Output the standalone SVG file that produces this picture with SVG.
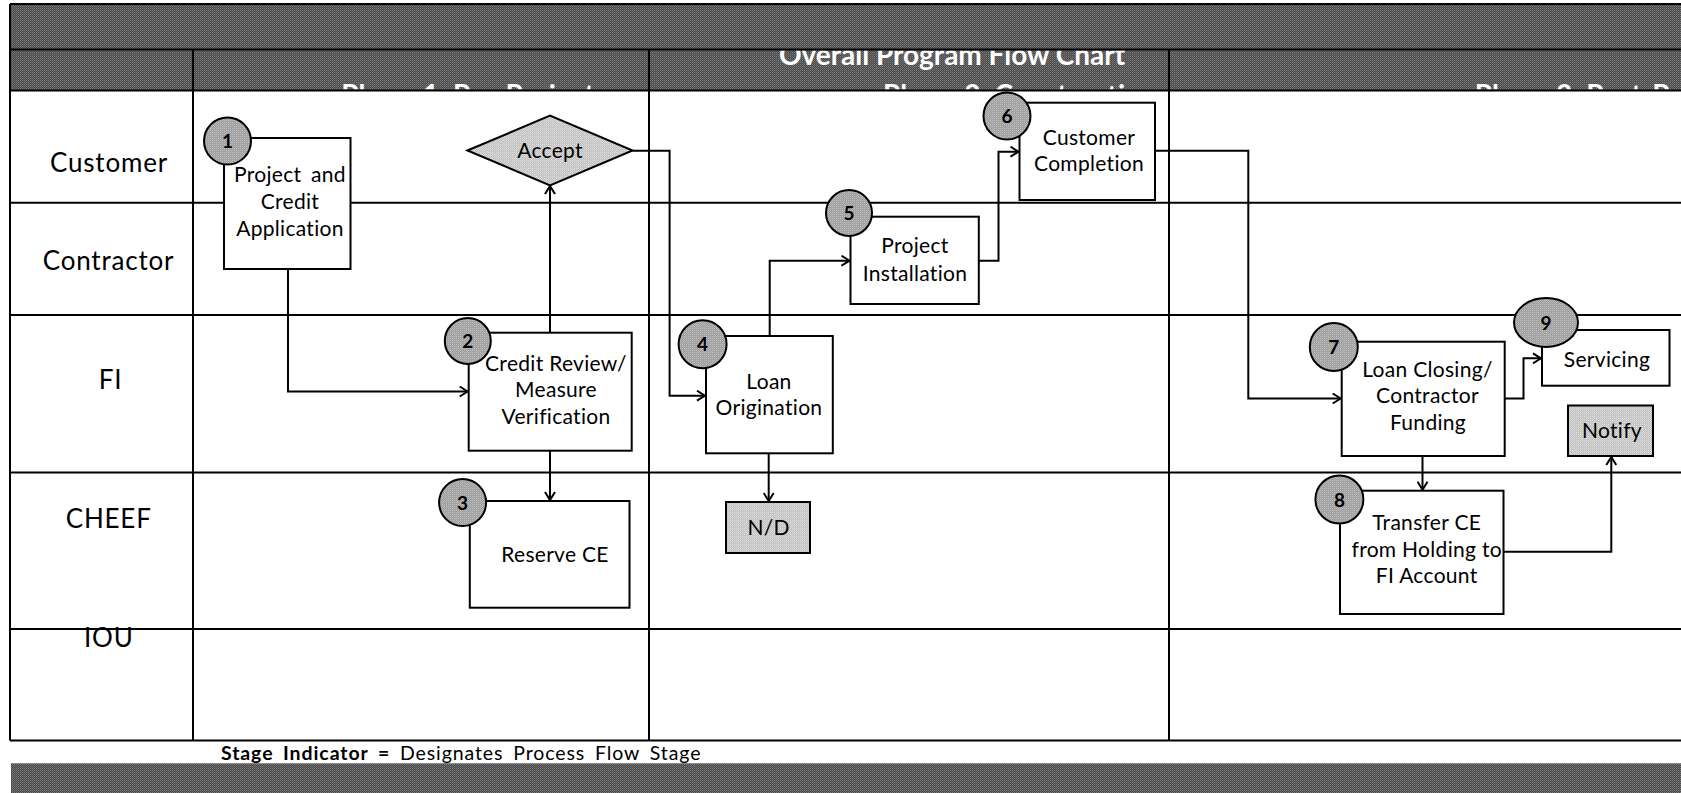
<svg xmlns="http://www.w3.org/2000/svg" width="1681" height="793" viewBox="0 0 1681 793">
<defs>
  <pattern id="dk" width="2" height="2" patternUnits="userSpaceOnUse">
    <rect width="2" height="2" fill="#4a4a4a"/><rect width="1" height="1" fill="#7c7c7c"/><rect x="1" y="1" width="1" height="1" fill="#666"/>
  </pattern>
  <pattern id="md" width="2" height="2" patternUnits="userSpaceOnUse">
    <rect width="2" height="2" fill="#9a9a9a"/><rect width="1" height="1" fill="#c2c2c2"/><rect x="1" y="1" width="1" height="1" fill="#b0b0b0"/>
  </pattern>
  <pattern id="lt" width="2" height="2" patternUnits="userSpaceOnUse">
    <rect width="2" height="2" fill="#bdbdbd"/><rect width="1" height="1" fill="#e2e2e2"/><rect x="1" y="1" width="1" height="1" fill="#d4d4d4"/>
  </pattern>
  <marker id="ar" viewBox="0 0 10 12" refX="9" refY="6" markerWidth="10" markerHeight="12" markerUnits="userSpaceOnUse" orient="auto">
    <path d="M1,1 L9,6 L1,11" fill="none" stroke="#000" stroke-width="2"/>
  </marker>
  <clipPath id="band2"><rect x="10" y="50.5" width="1671" height="39"/></clipPath>
</defs>
<style>
  .ln{stroke:#000;stroke-width:2;fill:none}
  .cn{stroke:#000;stroke-width:2;fill:none;marker-end:url(#ar)}
  .box{fill:#fff;stroke:#000;stroke-width:2}
  .gbox{fill:url(#lt);stroke:#000;stroke-width:2}
  .stg{fill:url(#md);stroke:#000;stroke-width:2}
  .t{font-family:Lato,"Liberation Sans",sans-serif;font-size:21px;letter-spacing:0.3px;text-anchor:middle;fill:#000}
  .lane{font-family:Lato,"Liberation Sans",sans-serif;font-size:26px;letter-spacing:0.8px;text-anchor:middle;fill:#000}
  .num{font-family:Lato,"Liberation Sans",sans-serif;font-size:19px;font-weight:bold;text-anchor:middle;fill:#000}
  .hd{font-family:Lato,"Liberation Sans",sans-serif;font-size:28px;font-weight:bold;text-anchor:middle;fill:#fff}
</style>
<rect width="1681" height="793" fill="#fff"/>

<g id="header">
  <rect x="10" y="4" width="1673" height="86.5" fill="url(#dk)"/>
  <g clip-path="url(#band2)">
    <text class="hd" x="952" y="64.5">Overall Program Flow Chart</text>
    <text class="hd" x="468" y="105">Phase 1: Pre-Project</text>
    <text class="hd" x="1020" y="105">Phase 2: Construction</text>
    <text class="hd" x="1608" y="105">Phase 3: Post-Project</text>
  </g>
  <path class="ln" d="M10,4 H1681" stroke-width="2.5"/>
  <path class="ln" d="M10,49.5 H1681 M10,90.5 H1681"/>
</g>

<g id="lanes">
  <path class="ln" d="M10,4 V740.5 M193,49.5 V740.5 M649,49.5 V740.5 M1169,49.5 V740.5"/>
  <path class="ln" d="M10,202.7 H1681 M10,315 H1681 M10,472.5 H1681 M10,629 H1681 M10,740.5 H1681"/>
  <text class="lane" x="109" y="171.5">Customer</text>
  <text class="lane" x="108.5" y="270">Contractor</text>
  <text class="lane" x="110.5" y="389">FI</text>
  <text class="lane" x="108.7" y="527.5">CHEEF</text>
  <text class="lane" x="108.8" y="646.5">IOU</text>
  <path class="ln" d="M10,629 H193"/>
</g>

<g id="connectors">
  <path class="cn" d="M288,269 V391.5 H467.7"/>
  <path class="cn" d="M550,332.7 V186"/>
  <path class="cn" d="M550,450.7 V500"/>
  <path class="cn" d="M632.6,150.7 H669.6 V395.7 H705"/>
  <path class="cn" d="M769.7,336 V260.7 H849.5"/>
  <path class="cn" d="M768.7,453.3 V501"/>
  <path class="cn" d="M978.8,260.7 H998.5 V151.7 H1018.5"/>
  <path class="cn" d="M1155,150.7 H1248.3 V398.5 H1340.7"/>
  <path class="cn" d="M1504.8,398.5 H1523.5 V358.3 H1541"/>
  <path class="cn" d="M1422.5,456 V489.7"/>
  <path class="cn" d="M1503.5,551.7 H1611.3 V457"/>
</g>

<g id="n1">
  <rect class="box" x="224" y="138" width="126.5" height="131"/>
  <circle class="stg" cx="227.5" cy="141" r="23.5"/>
  <text class="num" x="227.5" y="148">1</text>
  <text class="t" x="290" y="181.5" word-spacing="4">Project and</text>
  <text class="t" x="290" y="209">Credit</text>
  <text class="t" x="290" y="235.5">Application</text>
</g>
<g id="accept">
  <polygon class="gbox" points="467.4,150.5 550,115.7 632.6,150.5 550,185.3"/>
  <text class="t" x="550" y="158" font-size="20">Accept</text>
</g>
<g id="n2">
  <rect class="box" x="468.7" y="332.7" width="163" height="118"/>
  <circle class="stg" cx="467.8" cy="341" r="23"/>
  <text class="num" x="467.8" y="348">2</text>
  <text class="t" x="556" y="370.5">Credit Review/</text>
  <text class="t" x="556" y="397">Measure</text>
  <text class="t" x="556" y="424">Verification</text>
</g>
<g id="n3">
  <rect class="box" x="469.8" y="501" width="159.7" height="106.7"/>
  <circle class="stg" cx="462.6" cy="502.5" r="23.5"/>
  <text class="num" x="462.6" y="509.5">3</text>
  <text class="t" x="555" y="561.5">Reserve CE</text>
</g>
<g id="n4">
  <rect class="box" x="706" y="336" width="126.8" height="117.3"/>
  <circle class="stg" cx="702.6" cy="344.3" r="24"/>
  <text class="num" x="702.6" y="351.3">4</text>
  <text class="t" x="769" y="389">Loan</text>
  <text class="t" x="769" y="415">Origination</text>
</g>
<g id="nd">
  <rect class="gbox" x="726" y="502" width="84" height="51"/>
  <text class="t" x="768.7" y="535">N/D</text>
</g>
<g id="n5">
  <rect class="box" x="850.5" y="216.7" width="128.3" height="87.3"/>
  <circle class="stg" cx="849" cy="213" r="23"/>
  <text class="num" x="849" y="220">5</text>
  <text class="t" x="915" y="253">Project</text>
  <text class="t" x="915" y="280.5">Installation</text>
</g>
<g id="n6">
  <rect class="box" x="1019.5" y="102.7" width="135.5" height="97.3"/>
  <circle class="stg" cx="1007" cy="116" r="23.5"/>
  <text class="num" x="1007" y="123">6</text>
  <text class="t" x="1089" y="145">Customer</text>
  <text class="t" x="1089" y="170.7">Completion</text>
</g>
<g id="n7">
  <rect class="box" x="1341.7" y="341.7" width="163" height="114.3"/>
  <circle class="stg" cx="1333.8" cy="347" r="24"/>
  <text class="num" x="1333.8" y="354">7</text>
  <text class="t" x="1427.5" y="376.5">Loan Closing/</text>
  <text class="t" x="1427.5" y="403.3">Contractor</text>
  <text class="t" x="1428" y="430">Funding</text>
</g>
<g id="n8">
  <rect class="box" x="1340" y="490.7" width="163.5" height="123.3"/>
  <circle class="stg" cx="1339.4" cy="499.5" r="24"/>
  <text class="num" x="1339.4" y="506.5">8</text>
  <text class="t" x="1426.7" y="530">Transfer CE</text>
  <text class="t" x="1426.7" y="556.7">from Holding to</text>
  <text class="t" x="1426.7" y="583.3">FI Account</text>
</g>
<g id="n9">
  <rect class="box" x="1542" y="330" width="127.5" height="55.7"/>
  <ellipse class="stg" cx="1546" cy="322.5" rx="32" ry="24.5"/>
  <text class="num" x="1546" y="329.5">9</text>
  <text class="t" x="1607" y="366.7">Servicing</text>
</g>
<g id="notify">
  <rect class="gbox" x="1568" y="405.5" width="85" height="50.5"/>
  <text class="t" x="1612" y="438">Notify</text>
</g>

<g id="footer">
  <text x="221" y="760" font-family="Lato, 'Liberation Sans', sans-serif" font-size="19.5" letter-spacing="0.9" word-spacing="4" fill="#000"><tspan font-weight="bold">Stage Indicator =</tspan> Designates Process Flow Stage</text>
  <rect x="11" y="763.3" width="1670" height="30" fill="url(#dk)"/>
</g>
</svg>
